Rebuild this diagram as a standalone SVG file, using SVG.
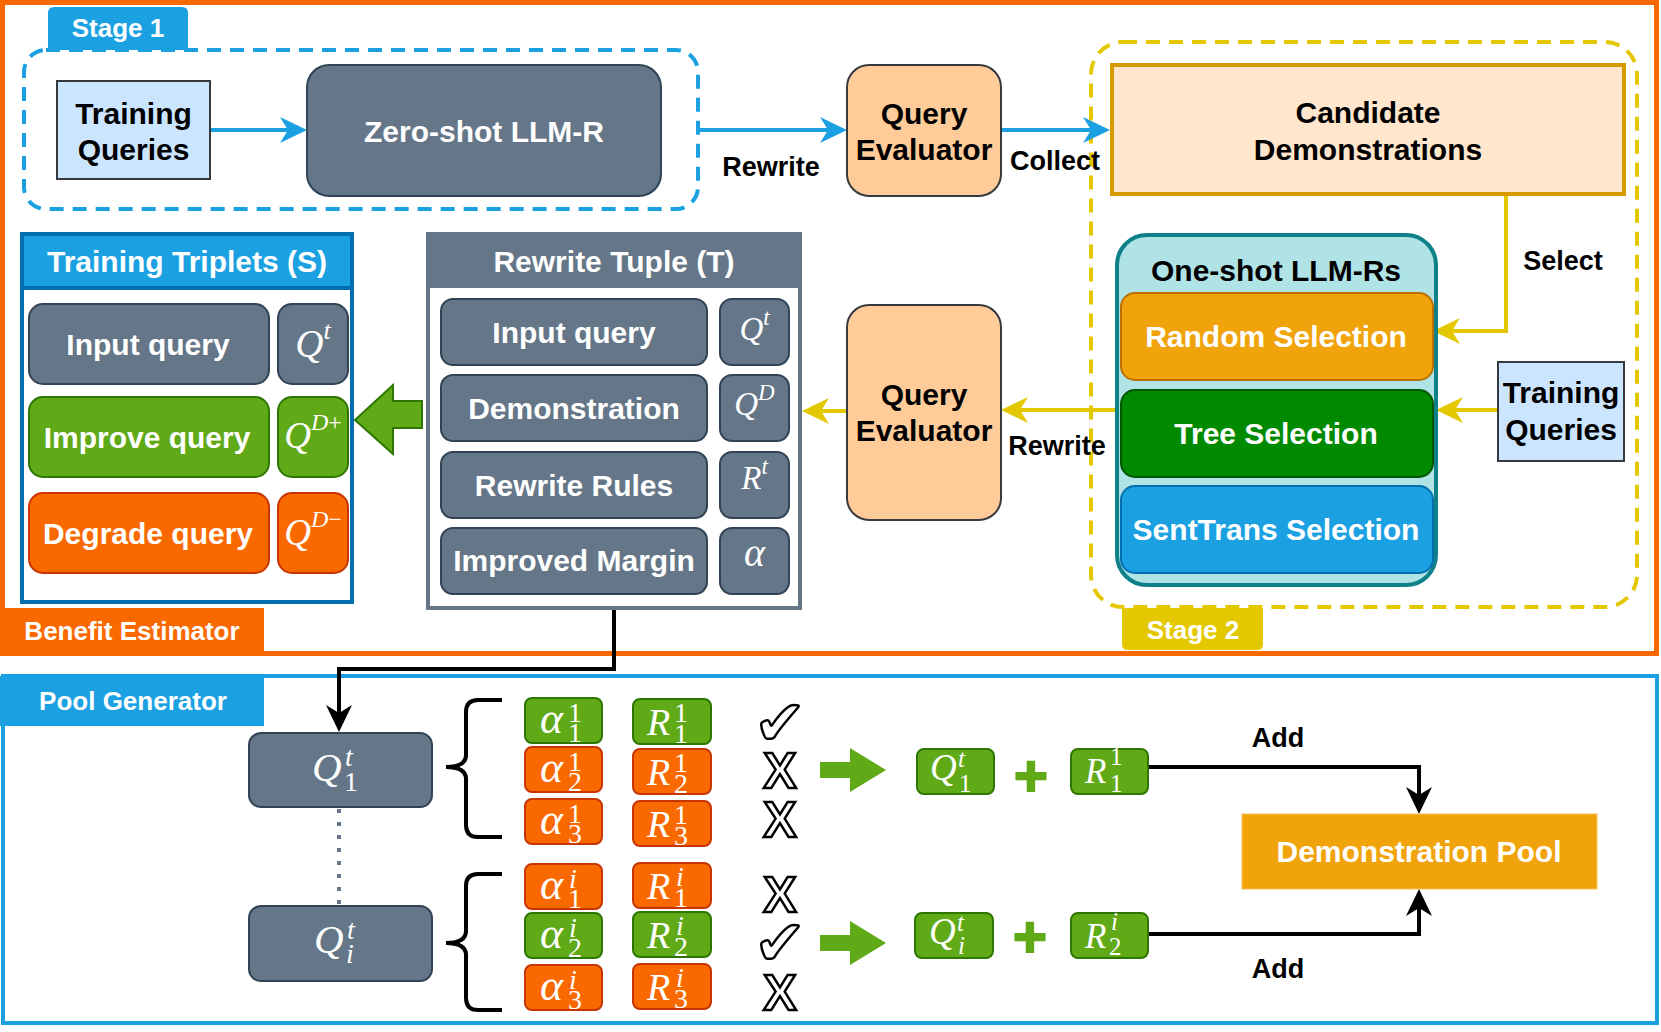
<svg xmlns="http://www.w3.org/2000/svg" width="1661" height="1032" viewBox="0 0 1661 1032">
<style>
.t{font-family:"Liberation Sans",Arial,Helvetica,sans-serif;font-weight:bold;font-size:30px;text-anchor:middle}
.w{fill:#fff}.k{fill:#000}
.e{font-size:27px}.f{font-size:26px}
.m{font-family:"Liberation Serif","DejaVu Serif",serif;font-style:italic;fill:#fff}
.up{font-style:normal}
.slate{fill:#647687;stroke:#314354;stroke-width:2}
.green{fill:#60A917;stroke:#2D7600;stroke-width:2}
.orange{fill:#FA6800;stroke:#C73500;stroke-width:2}
.ln{fill:none;stroke-width:4}
.mk{font-family:"Liberation Sans",Arial,sans-serif;font-weight:bold;font-size:50px;fill:#fff;stroke:#000;stroke-width:2.5;text-anchor:middle}
.ck{font-family:"DejaVu Sans",sans-serif;font-size:62px;fill:#fff;stroke:#000;stroke-width:2.5;text-anchor:middle}
.plus{font-family:"Liberation Sans",Arial,sans-serif;font-weight:bold;font-size:58px;fill:#60A917;stroke:#60A917;stroke-width:2;text-anchor:middle}
</style>
<defs>
<marker id="ab" markerUnits="userSpaceOnUse" viewBox="0 0 27 26" markerWidth="27" markerHeight="26" refX="8" refY="13" orient="auto"><path d="M0,0 L27,13 L0,26 L8,13 Z" fill="#1BA1E2"/></marker>
<marker id="ay" markerUnits="userSpaceOnUse" viewBox="0 0 27 26" markerWidth="27" markerHeight="26" refX="8" refY="13" orient="auto"><path d="M0,0 L27,13 L0,26 L8,13 Z" fill="#E3C800"/></marker>
<marker id="ak" markerUnits="userSpaceOnUse" viewBox="0 0 27 26" markerWidth="27" markerHeight="26" refX="8" refY="13" orient="auto"><path d="M0,0 L27,13 L0,26 L8,13 Z" fill="#000"/></marker>
</defs>
<rect width="1661" height="1032" fill="#fff"/>

<!-- frames -->
<g id="benefit-estimator-frame">
<rect x="2.5" y="2.5" width="1654" height="651" fill="none" stroke="#FA6800" stroke-width="5"/>
<rect x="0" y="608" width="264" height="46" fill="#FA6800"/>
<text class="t f w" x="132" y="640">Benefit Estimator</text>
</g>
<g id="pool-generator-frame">
<rect x="3" y="676" width="1654" height="347" fill="none" stroke="#1BA1E2" stroke-width="4"/>
<rect x="0" y="676" width="264" height="50" fill="#1BA1E2"/>
<text class="t f w" x="133" y="710">Pool Generator</text>
</g>
<g id="stage1">
<rect x="24" y="50" width="674" height="159" rx="22" fill="none" stroke="#1BA1E2" stroke-width="4" stroke-dasharray="14 9"/>
<path d="M48,50 V13 Q48,7 54,7 H182 Q188,7 188,13 V50 Z" fill="#1BA1E2"/>
<text class="t f w" x="118" y="37">Stage 1</text>
</g>
<g id="stage2">
<rect x="1091" y="42" width="546" height="565" rx="32" fill="none" stroke="#E3C800" stroke-width="4" stroke-dasharray="14 9"/>
<path d="M1122,608 H1263 V644 Q1263,650 1257,650 H1128 Q1122,650 1122,644 Z" fill="#E3C800"/>
<text class="t f w" x="1193" y="639">Stage 2</text>
</g>

<!-- connectors -->
<g id="connectors">
<path class="ln" stroke="#1BA1E2" d="M210,130 H288" marker-end="url(#ab)"/>
<path class="ln" stroke="#1BA1E2" d="M699,130 H828" marker-end="url(#ab)"/>
<path class="ln" stroke="#1BA1E2" d="M1001,130 H1091" marker-end="url(#ab)"/>
<path class="ln" stroke="#E3C800" d="M1506,194 V331 H1452" marker-end="url(#ay)"/>
<path class="ln" stroke="#E3C800" d="M1498,410 H1455" marker-end="url(#ay)"/>
<path class="ln" stroke="#E3C800" d="M1117,410 H1020" marker-end="url(#ay)"/>
<path class="ln" stroke="#E3C800" d="M847,411 H821" marker-end="url(#ay)"/>
<path class="ln" stroke="#000" d="M614,608 V669 H339 V713" marker-end="url(#ak)"/>
<path fill="none" stroke="#647687" stroke-width="4" stroke-dasharray="4 9" d="M339,809 V906"/>
<path class="ln" stroke="#000" d="M1149,767 H1419 V795" marker-end="url(#ak)"/>
<path class="ln" stroke="#000" d="M1148,934 H1419 V908" marker-end="url(#ak)"/>
<polygon points="355,420 393,385 393,401 422,401 422,428 393,428 393,454" fill="#60A917" stroke="#2D7600" stroke-width="2"/>
<polygon points="820,762 850,762 850,748 886,770 850,792 850,778 820,778" fill="#60A917"/>
<polygon points="820,935 850,935 850,921 886,943 850,965 850,951 820,951" fill="#60A917"/>
<path class="ln" stroke="#000" d="M502,700 H478 Q466,700 466,712 V755 Q466,767 446,767 Q466,767 466,779 V825 Q466,837 478,837 H502"/>
<path class="ln" stroke="#000" d="M502,874 H478 Q466,874 466,886 V931 Q466,943 446,943 Q466,943 466,955 V998 Q466,1010 478,1010 H502"/>
<text class="t e k" x="771" y="176">Rewrite</text>
<text class="t e k" x="1055" y="170">Collect</text>
<text class="t e k" x="1563" y="270">Select</text>
<text class="t e k" x="1057" y="455">Rewrite</text>
<text class="t e k" x="1278" y="747">Add</text>
<text class="t e k" x="1278" y="978">Add</text>
</g>

<!-- stage 1 nodes -->
<g id="training-queries-1">
<rect x="57" y="81" width="153" height="98" fill="#CCE5FF" stroke="#36393D" stroke-width="2"/>
<text class="t k" x="133.5" y="124">Training</text>
<text class="t k" x="133.5" y="160">Queries</text>
</g>
<g id="zero-shot">
<rect x="307" y="65" width="354" height="131" rx="22" fill="#647687" stroke="#314354" stroke-width="2"/>
<text class="t w" x="484" y="142">Zero-shot LLM-R</text>
</g>
<g id="query-evaluator-1">
<rect x="847" y="65" width="154" height="131" rx="22" fill="#FFCC99" stroke="#36393D" stroke-width="2"/>
<text class="t k" x="924" y="124">Query</text>
<text class="t k" x="924" y="160">Evaluator</text>
</g>
<g id="candidate-demonstrations">
<rect x="1112" y="65" width="512" height="129" fill="#FFE6CC" stroke="#D79B00" stroke-width="4"/>
<text class="t k" x="1368" y="123">Candidate</text>
<text class="t k" x="1368" y="160">Demonstrations</text>
</g>

<!-- stage 2 nodes -->
<g id="one-shot-llm-rs">
<rect x="1117" y="235" width="319" height="350" rx="30" fill="#B0E3E6" stroke="#0E8088" stroke-width="4"/>
<text class="t k" x="1276" y="281">One-shot LLM-Rs</text>
</g>
<g id="random-selection">
<rect x="1121" y="293" width="312" height="87" rx="14" fill="#F0A30A" stroke="#BD7000" stroke-width="2"/>
<text class="t w" x="1276" y="347">Random Selection</text>
</g>
<g id="tree-selection">
<rect x="1121" y="390" width="312" height="87" rx="14" fill="#008A00" stroke="#005700" stroke-width="2"/>
<text class="t w" x="1276" y="444">Tree Selection</text>
</g>
<g id="senttrans-selection">
<rect x="1121" y="486" width="312" height="87" rx="14" fill="#1BA1E2" stroke="#006EAF" stroke-width="2"/>
<text class="t w" x="1276" y="540">SentTrans Selection</text>
</g>
<g id="training-queries-2">
<rect x="1498" y="362" width="126" height="99" fill="#CCE5FF" stroke="#36393D" stroke-width="2"/>
<text class="t k" x="1561" y="403">Training</text>
<text class="t k" x="1561" y="440">Queries</text>
</g>
<g id="query-evaluator-2">
<rect x="847" y="305" width="154" height="215" rx="22" fill="#FFCC99" stroke="#36393D" stroke-width="2"/>
<text class="t k" x="924" y="405">Query</text>
<text class="t k" x="924" y="441">Evaluator</text>
</g>

<!-- rewrite tuple -->
<g id="rewrite-tuple">
<rect x="428" y="234" width="372" height="374" fill="#fff" stroke="#647687" stroke-width="4"/>
<rect x="428" y="234" width="372" height="54" fill="#647687"/>
<text class="t w" x="614" y="272">Rewrite Tuple (T)</text>
<rect class="slate" x="441" y="299" width="266" height="66" rx="12"/>
<text class="t w" x="574" y="343">Input query</text>
<rect class="slate" x="720" y="299" width="69" height="66" rx="12"/>
<text class="m" x="754.5" y="340" font-size="33" text-anchor="middle">Q<tspan font-size="23" dy="-15">t</tspan></text>
<rect class="slate" x="441" y="375" width="266" height="66" rx="12"/>
<text class="t w" x="574" y="419">Demonstration</text>
<rect class="slate" x="720" y="375" width="69" height="66" rx="12"/>
<text class="m" x="754.5" y="415" font-size="33" text-anchor="middle">Q<tspan font-size="23" dy="-15">D</tspan></text>
<rect class="slate" x="441" y="452" width="266" height="66" rx="12"/>
<text class="t w" x="574" y="496">Rewrite Rules</text>
<rect class="slate" x="720" y="452" width="69" height="66" rx="12"/>
<text class="m" x="754.5" y="489" font-size="33" text-anchor="middle">R<tspan font-size="23" dy="-15">t</tspan></text>
<rect class="slate" x="441" y="528" width="266" height="66" rx="12"/>
<text class="t w" x="574" y="571">Improved Margin</text>
<rect class="slate" x="720" y="528" width="69" height="66" rx="12"/>
<text class="m" x="754.5" y="566" font-size="40" text-anchor="middle">α</text>
</g>

<!-- training triplets -->
<g id="training-triplets">
<rect x="22" y="234" width="330" height="368" fill="#fff" stroke="#006EAF" stroke-width="4"/>
<rect x="22" y="234" width="330" height="54" fill="#1BA1E2" stroke="#006EAF" stroke-width="4"/>
<text class="t w" x="187" y="272">Training Triplets (S)</text>
<rect class="slate" x="29" y="304" width="240" height="80" rx="14"/>
<text class="t w" x="148" y="355">Input query</text>
<rect class="slate" x="278" y="304" width="70" height="80" rx="14"/>
<text class="m" x="313" y="357" font-size="39" text-anchor="middle">Q<tspan font-size="26" dy="-18">t</tspan></text>
<rect class="green" x="29" y="397" width="240" height="80" rx="14"/>
<text class="t w" x="147" y="448">Improve query</text>
<rect class="green" x="278" y="397" width="70" height="80" rx="14"/>
<text class="m" x="313" y="448" font-size="37" text-anchor="middle">Q<tspan font-size="24" dy="-18">D</tspan><tspan font-size="24" class="up">+</tspan></text>
<rect class="orange" x="29" y="493" width="240" height="80" rx="14"/>
<text class="t w" x="148" y="544">Degrade query</text>
<rect class="orange" x="278" y="493" width="70" height="80" rx="14"/>
<text class="m" x="313" y="545" font-size="37" text-anchor="middle">Q<tspan font-size="24" dy="-18">D</tspan><tspan font-size="24" class="up">−</tspan></text>
</g>

<!-- pool generator nodes -->
<g id="q1t">
<rect class="slate" x="249" y="733" width="183" height="74" rx="12"/>
<text class="m" font-size="41"><tspan x="312" y="781">Q</tspan><tspan x="345" y="766" font-size="28">t</tspan><tspan x="344" y="791" font-size="28" class="up">1</tspan></text>
</g>
<g id="qit">
<rect class="slate" x="249" y="906" width="183" height="75" rx="12"/>
<text class="m" font-size="41"><tspan x="314" y="953">Q</tspan><tspan x="347" y="939" font-size="28">t</tspan><tspan x="346" y="963" font-size="28">i</tspan></text>
</g>

<g id="candidates-1">
<rect class="green" x="525" y="698" width="77" height="45" rx="7"/>
<text class="m" font-size="44"><tspan x="540" y="733">α</tspan><tspan x="568" y="722" font-size="28" class="up">1</tspan><tspan x="568" y="742" font-size="28" class="up">1</tspan></text>
<rect class="green" x="633" y="699" width="78" height="45" rx="7"/>
<text class="m" font-size="38"><tspan x="647" y="735">R</tspan><tspan x="674" y="722" font-size="28" class="up">1</tspan><tspan x="674" y="743" font-size="28" class="up">1</tspan></text>
<rect class="orange" x="525" y="747" width="77" height="45" rx="7"/>
<text class="m" font-size="44"><tspan x="540" y="782">α</tspan><tspan x="568" y="771" font-size="28" class="up">1</tspan><tspan x="568" y="791" font-size="28" class="up">2</tspan></text>
<rect class="orange" x="633" y="749" width="78" height="45" rx="7"/>
<text class="m" font-size="38"><tspan x="647" y="785">R</tspan><tspan x="674" y="772" font-size="28" class="up">1</tspan><tspan x="674" y="793" font-size="28" class="up">2</tspan></text>
<rect class="orange" x="525" y="799" width="77" height="45" rx="7"/>
<text class="m" font-size="44"><tspan x="540" y="834">α</tspan><tspan x="568" y="823" font-size="28" class="up">1</tspan><tspan x="568" y="843" font-size="28" class="up">3</tspan></text>
<rect class="orange" x="633" y="801" width="78" height="45" rx="7"/>
<text class="m" font-size="38"><tspan x="647" y="837">R</tspan><tspan x="674" y="824" font-size="28" class="up">1</tspan><tspan x="674" y="845" font-size="28" class="up">3</tspan></text>
<text class="ck" x="780" y="744">✔</text>
<text class="mk" x="780" y="788">X</text>
<text class="mk" x="780" y="837">X</text>
</g>

<g id="candidates-i">
<rect class="orange" x="525" y="864" width="77" height="45" rx="7"/>
<text class="m" font-size="44"><tspan x="540" y="899">α</tspan><tspan x="569" y="888" font-size="28">i</tspan><tspan x="568" y="908" font-size="28" class="up">1</tspan></text>
<rect class="orange" x="633" y="863" width="78" height="45" rx="7"/>
<text class="m" font-size="38"><tspan x="647" y="899">R</tspan><tspan x="676" y="886" font-size="28">i</tspan><tspan x="674" y="907" font-size="28" class="up">1</tspan></text>
<rect class="green" x="525" y="913" width="77" height="45" rx="7"/>
<text class="m" font-size="44"><tspan x="540" y="948">α</tspan><tspan x="569" y="937" font-size="28">i</tspan><tspan x="568" y="957" font-size="28" class="up">2</tspan></text>
<rect class="green" x="633" y="912" width="78" height="45" rx="7"/>
<text class="m" font-size="38"><tspan x="647" y="948">R</tspan><tspan x="676" y="935" font-size="28">i</tspan><tspan x="674" y="956" font-size="28" class="up">2</tspan></text>
<rect class="orange" x="525" y="965" width="77" height="45" rx="7"/>
<text class="m" font-size="44"><tspan x="540" y="1000">α</tspan><tspan x="569" y="989" font-size="28">i</tspan><tspan x="568" y="1009" font-size="28" class="up">3</tspan></text>
<rect class="orange" x="633" y="964" width="78" height="45" rx="7"/>
<text class="m" font-size="38"><tspan x="647" y="1000">R</tspan><tspan x="676" y="987" font-size="28">i</tspan><tspan x="674" y="1008" font-size="28" class="up">3</tspan></text>
<text class="mk" x="780" y="912">X</text>
<text class="ck" x="780" y="964">✔</text>
<text class="mk" x="780" y="1010">X</text>
</g>

<g id="selected-1">
<rect class="green" x="917" y="749" width="77" height="45" rx="7"/>
<text class="m" font-size="37"><tspan x="930" y="780">Q</tspan><tspan x="958" y="767" font-size="25">t</tspan><tspan x="959" y="792" font-size="25" class="up">1</tspan></text>
<text class="plus" x="1031" y="796">+</text>
<rect class="green" x="1071" y="749" width="77" height="45" rx="7"/>
<text class="m" font-size="35"><tspan x="1085" y="783">R</tspan><tspan x="1110" y="765" font-size="25" class="up">1</tspan><tspan x="1110" y="792" font-size="25" class="up">1</tspan></text>
</g>
<g id="selected-i">
<rect class="green" x="915" y="913" width="78" height="45" rx="7"/>
<text class="m" font-size="37"><tspan x="929" y="944">Q</tspan><tspan x="957" y="931" font-size="25">t</tspan><tspan x="958" y="954" font-size="25">i</tspan></text>
<text class="plus" x="1030" y="957">+</text>
<rect class="green" x="1071" y="913" width="77" height="45" rx="7"/>
<text class="m" font-size="35"><tspan x="1085" y="948">R</tspan><tspan x="1111" y="930" font-size="25">i</tspan><tspan x="1109" y="955" font-size="25" class="up">2</tspan></text>
</g>

<g id="demonstration-pool">
<rect x="1242" y="814" width="355" height="75" fill="#F0A30A" stroke="#F5C15A" stroke-width="1"/>
<text class="t w" x="1419" y="862">Demonstration Pool</text>
</g>
</svg>
